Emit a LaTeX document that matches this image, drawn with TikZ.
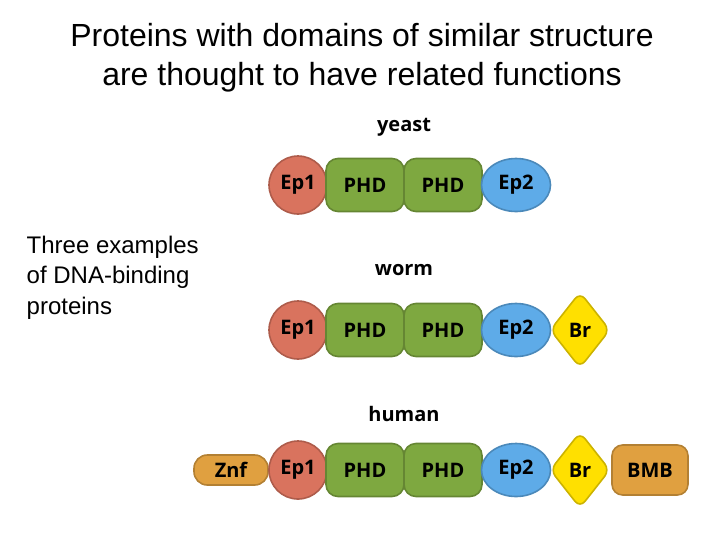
\documentclass[tikz,border=0pt]{standalone}
\usepackage{fontspec}
\setmainfont{Liberation Sans}
\newfontfamily\lab{Open Sans}
\usetikzlibrary{shapes.geometric}
\definecolor{cEp}{HTML}{D9735E}
\definecolor{cPHD}{HTML}{7EA840}
\definecolor{cEpb}{HTML}{5EABE8}
\definecolor{cBr}{HTML}{FFE000}
\definecolor{cZ}{HTML}{E0A040}
\tikzset{
 lbl/.style={font=\lab\bfseries\fontsize{15}{15}\selectfont, text=black},
 dom/.style={lbl, inner sep=0pt, draw=#1!80!black, line width=1.2pt, fill=#1},
 ep1/.style={dom=cEp, circle, minimum size=43.5pt},
 phd/.style={dom=cPHD, rectangle, rounded corners=9pt, minimum width=58.5pt, minimum height=39.75pt},
 ep2/.style={dom=cEpb, ellipse, minimum width=51.75pt, minimum height=39.75pt},
 br/.style={dom=cBr, diamond, rounded corners=6pt, minimum width=45pt, minimum height=57pt},
 pill/.style={dom=cZ, rectangle, rounded corners=#1, minimum height=22.5pt},
 title/.style={font=\fontsize{24}{29}\selectfont, align=center},
 species/.style={font=\lab\bfseries\fontsize{15}{15}\selectfont},
}
\begin{document}
\begin{tikzpicture}[x=0.75pt,y=-0.75pt]
\useasboundingbox (0,0) rectangle (720,540);
\node[title] (t) at (362,58) {Proteins with domains of similar structure\\are thought to have related functions};
\node[font=\fontsize{18}{23}\selectfont, align=left, anchor=north west] (d) at (22,231) {Three examples\\of DNA-binding\\proteins};
\node[species] (sy) at (404,127) {yeast};
\node[species] (sw) at (404,270) {worm};
\node[species] (sh) at (404,414) {human};
% yeast
\node[ep1] (y1) at (298,185) {Ep1};
\node[phd] (y2) at (365,185) {PHD};
\node[phd] (y3) at (443,185) {PHD};
\node[ep2] (y4) at (516,185) {Ep2};
% worm
\node[ep1] (w1) at (298,330) {Ep1};
\node[phd] (w2) at (365,330) {PHD};
\node[phd] (w3) at (443,330) {PHD};
\node[ep2] (w4) at (516,330) {Ep2};
\node[br] (w5) at (580,330) {Br};
% human
\node[pill=10pt, minimum width=55.5pt] (h0) at (231,470) {Znf};
\node[ep1] (h1) at (298,470) {Ep1};
\node[phd] (h2) at (365,470) {PHD};
\node[phd] (h3) at (443,470) {PHD};
\node[ep2] (h4) at (516,470) {Ep2};
\node[br] (h5) at (580,470) {Br};
\node[pill=8pt, minimum width=57pt, minimum height=37.5pt] (h6) at (650,470) {BMB};
\end{tikzpicture}
\end{document}
